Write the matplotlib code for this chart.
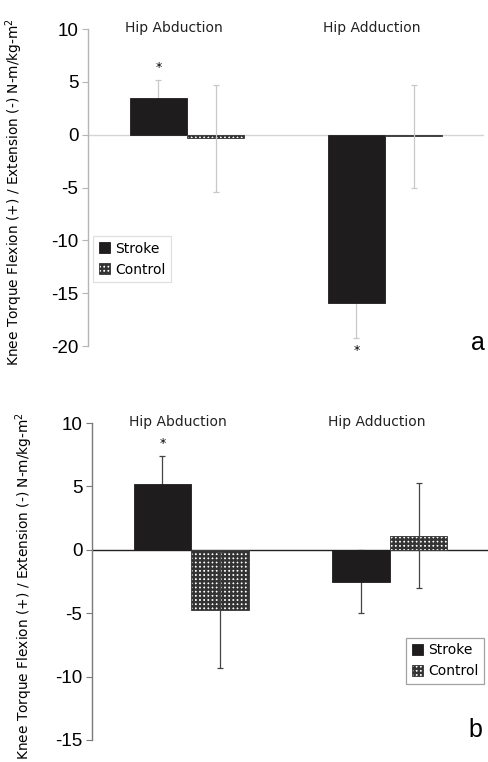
"""
Knee torque during hip abduction / adduction, stroke vs control (panels a and b).
"""
import matplotlib
matplotlib.use("Agg")
import matplotlib.pyplot as plt
import numpy as np

categories = ["Hip Abduction", "Hip Adduction"]
groups = ["Stroke", "Control"]

# panel a
a_stroke = [3.5, -15.9]
a_stroke_err = [1.7, 3.3]
a_control = [-0.35, -0.15]
a_control_err = [5.05, 4.85]
a_sig = [True, True]        # asterisk over stroke bar

# panel b
b_stroke = [5.15, -2.5]
b_stroke_err = [2.25, 2.5]
b_control = [-4.75, 1.1]
b_control_err = [4.55, 4.15]
b_sig = [True, False]

ylabel = "Knee Torque Flexion (+) / Extension (-) N-m/kg-m$^2$"

plt.rcParams["hatch.linewidth"] = 1.7
plt.rcParams["axes.unicode_minus"] = False
TICK_FONT = "Liberation Sans"
TEXT_FONT = "DejaVu Sans"


def panel(ax, stroke, s_err, control, c_err, sig, ylim, yticks, axcol, errcol, zcol, lab_x):
    x = np.arange(len(categories))
    w = 0.29
    ax.bar(x - w / 2, stroke, w, color="#1e1c1c", edgecolor="#1e1c1c", lw=0.6, label=groups[0], zorder=2)
    ax.bar(x + w / 2, control, w, color="white", edgecolor="#333333", hatch="++++", lw=0.6,
           label=groups[1], zorder=2)
    # stroke error bars sit behind the solid bars, control ones show through the hatch
    ax.errorbar(x - w / 2, stroke, yerr=s_err, fmt="none", ecolor=errcol, elinewidth=0.9,
                capsize=2, capthick=0.9, zorder=1.5)
    ax.errorbar(x + w / 2, control, yerr=c_err, fmt="none", ecolor=errcol, elinewidth=0.9,
                capsize=2, capthick=0.9, zorder=3)
    ax.axhline(0, color=zcol, lw=1.0, zorder=1)

    for i, s in enumerate(sig):
        if not s:
            continue
        v = stroke[i]
        end = v + s_err[i] if v > 0 else v - s_err[i]
        off = 9 if v > 0 else -9
        ax.annotate("*", (x[i] - w / 2, end), xytext=(0, off), textcoords="offset points",
                    ha="center", va="center", fontsize=9, family=TEXT_FONT)

    for i, c in enumerate(categories):
        ax.text(x[i] - 0.065, ylim[1] + 0.1, c, ha="center", va="center", fontsize=10,
                family=TEXT_FONT, color="#222222")

    ax.set_xlim(-0.5, 1.5)
    ax.set_ylim(*ylim)
    ax.set_yticks(yticks)
    ax.set_xticks([])
    for sp in ["top", "right", "bottom"]:
        ax.spines[sp].set_visible(False)
    ax.spines["left"].set_color(axcol)
    ax.spines["left"].set_linewidth(1.0)
    ax.tick_params(axis="y", length=4, color=axcol, labelsize=13.5, pad=3)
    for t in ax.get_yticklabels():
        t.set_family(TICK_FONT)
    ax.set_ylabel(ylabel, fontsize=9.9, family=TEXT_FONT)
    ax.yaxis.set_label_coords(lab_x, 0.485)


fig = plt.figure(figsize=(4.89, 7.62), dpi=100)
ax1 = fig.add_axes([88 / 489, 1 - 346 / 762, 396 / 489, 317 / 762])
ax2 = fig.add_axes([92 / 489, 1 - 740 / 762, 397 / 489, 317 / 762])

panel(ax1, a_stroke, a_stroke_err, a_control, a_control_err, a_sig, (-20, 10),
      [-20, -15, -10, -5, 0, 5, 10], "#b5b5b5", "#c8c8c8", "#d5d5d5", -0.158)
panel(ax2, b_stroke, b_stroke_err, b_control, b_control_err, b_sig, (-15, 10),
      [-15, -10, -5, 0, 5, 10], "#7a7a7a", "#444444", "#222222", -0.144)

leg_kw = dict(loc="upper left", borderaxespad=0, handlelength=0.8, handleheight=0.8,
              handletextpad=0.4, fancybox=False, borderpad=0.4, labelspacing=0.5,
              prop={"family": TEXT_FONT, "size": 10})
l1 = ax1.legend(bbox_to_anchor=(0.013, 0.347), **leg_kw)
l2 = ax2.legend(bbox_to_anchor=(0.791, 0.322), **leg_kw)
l1.get_frame().set_edgecolor("#d8d8d8")
l2.get_frame().set_edgecolor("#8a8a8a")
for l in (l1, l2):
    l.get_frame().set_linewidth(0.9)

fig.text(478 / 489, 1 - 343 / 762, "a", fontsize=18, family=TICK_FONT, ha="center", va="center")
fig.text(475 / 489, 1 - 730 / 762, "b", fontsize=18, family=TICK_FONT, ha="center", va="center")

fig.savefig("out.png", dpi=100)
